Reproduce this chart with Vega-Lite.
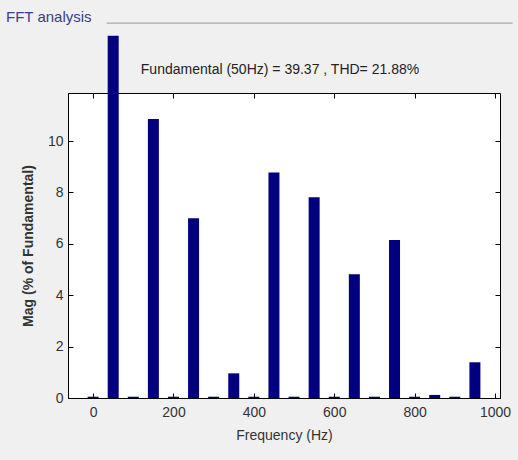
{
  "$schema": "https://vega.github.io/schema/vega-lite/v6.json",
  "width": 432,
  "height": 305,
  "autosize": {"type": "none"},
  "padding": {"left": 68, "top": 93, "right": 18, "bottom": 62},
  "background": "#f0f0f0",
  "config": {
    "view": {"fill": "white", "stroke": "black", "strokeWidth": 1},
    "font": "Liberation Sans",
    "axis": {"grid": false, "domainColor": "black", "tickColor": "black", "labelColor": "#333333", "titleColor": "#333333", "labelFont": "Liberation Sans", "titleFont": "Liberation Sans"}
  },
  "title": {
    "text": "FFT analysis",
    "anchor": "start",
    "frame": "group",
    "dx": -62,
    "offset": -9,
    "baseline": "middle",
    "fontSize": 15,
    "fontWeight": "normal",
    "color": "#3b3b8f",
    "font": "Liberation Sans"
  },
  "datasets": {
    "spectrum": [
      {"freq": 0, "mag": 0.05},
      {"freq": 50, "mag": 14.1},
      {"freq": 100, "mag": 0.05},
      {"freq": 150, "mag": 10.86},
      {"freq": 200, "mag": 0.05},
      {"freq": 250, "mag": 7.0},
      {"freq": 300, "mag": 0.05},
      {"freq": 350, "mag": 0.96},
      {"freq": 400, "mag": 0.05},
      {"freq": 450, "mag": 8.78},
      {"freq": 500, "mag": 0.05},
      {"freq": 550, "mag": 7.81},
      {"freq": 600, "mag": 0.05},
      {"freq": 650, "mag": 4.82},
      {"freq": 700, "mag": 0.05},
      {"freq": 750, "mag": 6.15},
      {"freq": 800, "mag": 0.05},
      {"freq": 850, "mag": 0.12},
      {"freq": 900, "mag": 0.05},
      {"freq": 950, "mag": 1.39}
    ],
    "single": [{"label": "Fundamental (50Hz) = 39.37 , THD= 21.88%"}]
  },
  "resolve": {"axis": {"x": "independent", "y": "independent"}},
  "layer": [
    {
      "data": {"name": "single"},
      "mark": {"type": "rule", "color": "#999999", "strokeWidth": 1, "clip": false},
      "encoding": {
        "x": {"datum": 34, "type": "quantitative", "axis": null},
        "x2": {"datum": 1044},
        "y": {"datum": 14.59, "type": "quantitative", "axis": null}
      }
    },
    {
      "data": {"name": "spectrum"},
      "mark": {"type": "bar", "size": 11, "color": "#000080", "clip": false},
      "encoding": {
        "x": {
          "field": "freq",
          "type": "quantitative",
          "scale": {"domain": [-50, 1000], "nice": false, "zero": false},
          "axis": {
            "values": [0, 200, 400, 600, 800, 1000],
            "format": "d",
            "tickSize": -5,
            "labelPadding": 12,
            "labelFontSize": 14,
            "title": "Frequency (Hz)",
            "titleFontSize": 14,
            "titleFontWeight": "normal",
            "titlePadding": 9
          }
        },
        "y": {
          "field": "mag",
          "type": "quantitative",
          "scale": {"domain": [0, 11.87], "nice": false},
          "axis": {
            "values": [0, 2, 4, 6, 8, 10],
            "tickSize": -5,
            "labelPadding": 10,
            "labelFontSize": 14,
            "title": "Mag (% of Fundamental)",
            "titleFontSize": 14,
            "titleFontWeight": "bold",
            "titlePadding": 12
          }
        }
      }
    },
    {
      "data": {"name": "single"},
      "mark": {"type": "text", "fontSize": 14, "color": "#222222", "font": "Liberation Sans"},
      "encoding": {
        "x": {"datum": 465, "type": "quantitative", "axis": {"orient": "top", "values": [0, 200, 400, 600, 800, 1000], "labels": false, "tickSize": -5, "domain": false, "title": null}},
        "y": {"datum": 12.76, "type": "quantitative", "axis": {"orient": "right", "values": [0, 2, 4, 6, 8, 10], "labels": false, "tickSize": -5, "domain": false, "title": null}},
        "text": {"field": "label"}
      }
    }
  ]
}
